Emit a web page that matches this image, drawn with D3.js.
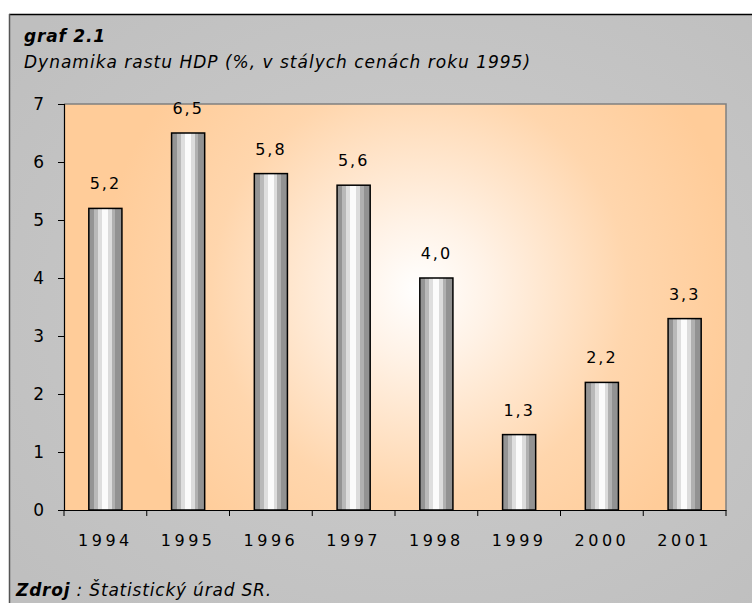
<!DOCTYPE html>
<html>
<head>
<meta charset="utf-8">
<script src="https://cdn.jsdelivr.net/npm/d3@7"></script>
<style>
  body { margin: 0; background: #fff; }
  svg text { font-family: "DejaVu Sans", Verdana, sans-serif; fill: #000; }
</style>
</head>
<body>
<div id="container"></div>
<script>
// data
const years = ["1994", "1995", "1996", "1997", "1998", "1999", "2000", "2001"];
const growth = [5.2, 6.5, 5.8, 5.6, 4.0, 1.3, 2.2, 3.3];
const yTicks = [0, 1, 2, 3, 4, 5, 6, 7];

const width = 752, height = 603;
const plot = { left: 64, right: 726, top: 104, bottom: 510 };

const svg = d3.select("#container").append("svg")
  .attr("width", width)
  .attr("height", height);

const defs = svg.append("defs");

// outer background
const bg = defs.append("radialGradient").attr("id", "bg")
  .attr("cx", "0.55").attr("cy", "0.5").attr("r", "0.7");
bg.append("stop").attr("offset", "0%").attr("stop-color", "#cdcdcd");
bg.append("stop").attr("offset", "100%").attr("stop-color", "#bfbfbf");

// plot area background
const pg = defs.append("radialGradient").attr("id", "pg")
  .attr("gradientUnits", "userSpaceOnUse")
  .attr("cx", 420).attr("cy", 290).attr("r", 320);
pg.append("stop").attr("offset", "0%").attr("stop-color", "#ffffff");
pg.append("stop").attr("offset", "22%").attr("stop-color", "#fff2e6");
pg.append("stop").attr("offset", "65%").attr("stop-color", "#ffd6ad");
pg.append("stop").attr("offset", "100%").attr("stop-color", "#ffcc99");

// bar shading, stepped
const barStops = [
  [0, "#949494"], [0.16, "#949494"], [0.16, "#b9b9b9"], [0.28, "#b9b9b9"],
  [0.28, "#dedede"], [0.40, "#dedede"], [0.40, "#fbfbfb"], [0.58, "#fbfbfb"],
  [0.58, "#dcdcdc"], [0.70, "#dcdcdc"], [0.70, "#b0b0b0"], [0.80, "#b0b0b0"],
  [0.80, "#929292"], [1, "#929292"]
];
const bgr = defs.append("linearGradient").attr("id", "bar")
  .attr("x1", 0).attr("x2", 1).attr("y1", 0).attr("y2", 0);
bgr.selectAll("stop").data(barStops).join("stop")
  .attr("offset", d => d[0])
  .attr("stop-color", d => d[1]);

svg.append("rect")
  .attr("x", 9).attr("y", 14)
  .attr("width", width - 9).attr("height", height - 14)
  .attr("fill", "url(#bg)");
svg.append("line").attr("x1", 9).attr("x2", width).attr("y1", 14.5).attr("y2", 14.5)
  .attr("stroke", "#000").attr("stroke-width", 1.5);
svg.append("line").attr("x1", 9.5).attr("x2", 9.5).attr("y1", 14).attr("y2", height)
  .attr("stroke", "#555").attr("stroke-width", 1.5);

// scales
const x = d3.scaleBand().domain(years).range([plot.left, plot.right]).padding(0);
const y = d3.scaleLinear().domain([0, 7]).range([plot.bottom, plot.top]);
const barW = x.bandwidth() * 0.4;

svg.append("rect")
  .attr("x", plot.left).attr("y", plot.top)
  .attr("width", plot.right - plot.left).attr("height", plot.bottom - plot.top)
  .attr("fill", "url(#pg)");
svg.append("path")
  .attr("d", `M${plot.left},${plot.top}H${plot.right}V${plot.bottom}`)
  .attr("fill", "none").attr("stroke", "#808080").attr("stroke-width", 1.5);

// bars
svg.selectAll(".bar").data(growth).join("rect")
  .attr("class", "bar")
  .attr("x", (d, i) => x(years[i]) + x.bandwidth() / 2 - barW / 2)
  .attr("y", d => y(d))
  .attr("width", barW)
  .attr("height", d => y(0) - y(d))
  .attr("fill", "url(#bar)")
  .attr("stroke", "#000").attr("stroke-width", 1.5);

// value labels
svg.selectAll(".val").data(growth).join("text")
  .attr("class", "val")
  .attr("x", (d, i) => x(years[i]) + x.bandwidth() / 2)
  .attr("y", d => y(d) - 19)
  .attr("text-anchor", "middle")
  .attr("font-size", 16)
  .attr("letter-spacing", 2)
  .text(d => d.toFixed(1).replace(".", ","));

// y axis
const yAxis = svg.append("g")
  .attr("transform", `translate(${plot.left},0)`)
  .call(d3.axisLeft(y).tickValues(yTicks).tickSize(6).tickPadding(14).tickFormat(d3.format("d")));
yAxis.select(".domain").attr("stroke", "#000").attr("stroke-width", 1.2);
yAxis.selectAll(".tick line").attr("stroke", "#000");
yAxis.selectAll("text").attr("font-size", 17).attr("font-family", "DejaVu Sans");

// x axis
const xAxis = svg.append("g")
  .attr("transform", `translate(0,${plot.bottom})`)
  .call(d3.axisBottom(x).tickSize(0).tickPadding(25));
xAxis.select(".domain").attr("stroke", "#000").attr("stroke-width", 1.2);
xAxis.selectAll("text").attr("font-size", 16).attr("letter-spacing", 3.5)
  .attr("font-family", "DejaVu Sans");
svg.append("g").selectAll("line").data(d3.range(years.length + 1)).join("line")
  .attr("x1", i => plot.left + i * x.step())
  .attr("x2", i => plot.left + i * x.step())
  .attr("y1", plot.bottom).attr("y2", plot.bottom + 6)
  .attr("stroke", "#000");

// titles
svg.append("text").attr("x", 24).attr("y", 42)
  .attr("font-size", 17).attr("font-weight", "bold").attr("font-style", "italic")
  .attr("letter-spacing", 0.8)
  .text("graf 2.1");
svg.append("text").attr("x", 24).attr("y", 68)
  .attr("font-size", 17).attr("font-style", "italic").attr("letter-spacing", 1)
  .text("Dynamika rastu HDP (%, v stálych cenách roku 1995)");

const src = svg.append("text").attr("x", 16).attr("y", 596)
  .attr("font-size", 17).attr("font-style", "italic").attr("letter-spacing", 0.8);
src.append("tspan").attr("font-weight", "bold").text("Zdroj");
src.append("tspan").text(" : Štatistický úrad SR.");
</script>
</body>
</html>
